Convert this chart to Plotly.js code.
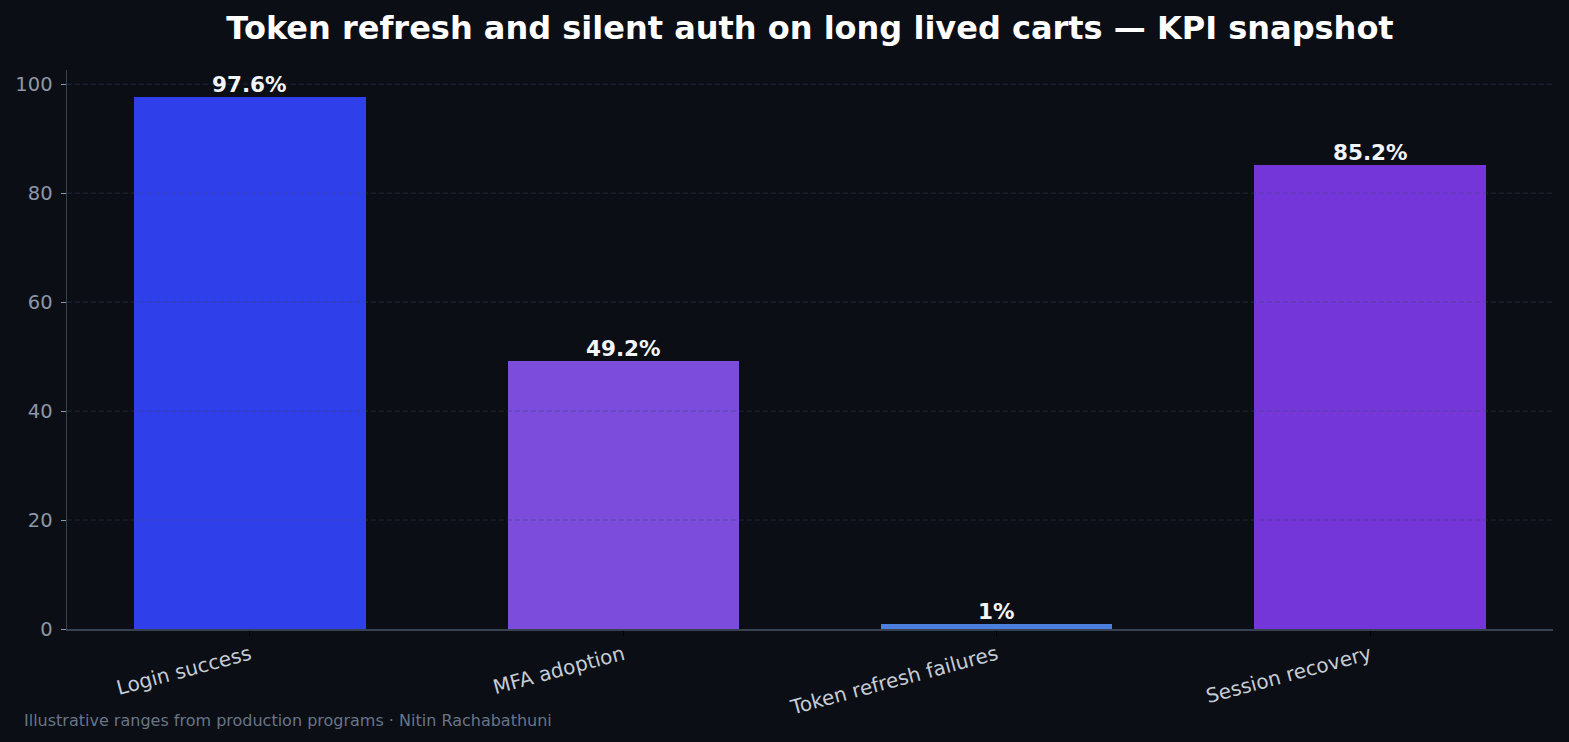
<!DOCTYPE html>
<html>
<head>
<meta charset="utf-8">
<script src="https://cdn.plot.ly/plotly-3.0.1.min.js"></script>
<style>
  html, body { margin: 0; padding: 0; background: #0b0e14; }
  #chart { width: 1569px; height: 742px; }
</style>
</head>
<body>
<div id="chart"></div>
<script>
// KPI categories and their percentage values
const categories = ["Login success", "MFA adoption", "Token refresh failures", "Session recovery"];
const values = [97.6, 49.2, 1.0, 85.2];
const barColors = ["#2f40ea", "#7c4cdc", "#4a7fdc", "#7436d9"];
const gridValues = [20, 40, 60, 80, 100];

const font = "DejaVu Sans, Verdana, sans-serif";

const trace = {
  type: "bar",
  x: categories,
  y: values,
  width: 0.62,
  marker: { color: barColors, line: { width: 0 } },
  hoverinfo: "skip"
};

// dashed gridlines drawn over the bars
const gridShapes = gridValues.map(v => ({
  type: "line", xref: "paper", yref: "y",
  x0: 0, x1: 1, y0: v, y1: v,
  line: { color: "rgba(60,70,100,0.45)", width: 1, dash: "5px,3px" },
  layer: "above"
}));

// value labels sitting just above each bar
const valueLabels = categories.map((c, i) => ({
  x: c, y: values[i], xref: "x", yref: "y",
  text: "<b>" + values[i] + "%</b>",
  showarrow: false,
  xanchor: "center", yanchor: "bottom",
  yshift: -2,
  font: { family: font, size: 21.5, color: "#f2f4f7" }
}));

const layout = {
  width: 1569,
  height: 742,
  paper_bgcolor: "#0b0e14",
  plot_bgcolor: "#0b0e14",
  margin: { l: 67, r: 16, t: 70, b: 113 },
  bargap: 0,
  showlegend: false,
  title: {
    text: "<b>Token refresh and silent auth on long lived carts — KPI snapshot</b>",
    font: { family: font, size: 32, color: "#ffffff" },
    x: 0.5, xanchor: "center", xref: "paper",
    y: 0.962, yanchor: "middle"
  },
  xaxis: {
    type: "category",
    range: [-0.49, 3.49],
    showgrid: false,
    zeroline: false,
    showline: true,
    linecolor: "#364152",
    linewidth: 1.5,
    ticks: "outside",
    ticklen: 5,
    tickwidth: 1,
    tickcolor: "#000000",
    tickangle: -15,
    tickfont: { family: font, size: 20, color: "#c5ccd6" },
    fixedrange: true
  },
  yaxis: {
    range: [0, 102.6],
    tickvals: [0, 20, 40, 60, 80, 100],
    showgrid: false,
    zeroline: false,
    showline: true,
    linecolor: "#364152",
    linewidth: 1.5,
    ticks: "outside",
    ticklen: 5,
    tickwidth: 1,
    tickcolor: "#8b97a8",
    ticklabelstandoff: 4,
    tickfont: { family: font, size: 19.5, color: "#8b97a8" },
    fixedrange: true
  },
  shapes: gridShapes,
  annotations: valueLabels.concat([{
    text: "Illustrative ranges from production programs · Nitin Rachabathuni",
    xref: "paper", yref: "paper",
    x: -0.0305, y: -0.163,
    xanchor: "left", yanchor: "middle",
    showarrow: false,
    font: { family: font, size: 16, color: "#687589" }
  }])
};

Plotly.newPlot("chart", [trace], layout, { staticPlot: true, displayModeBar: false });
</script>
</body>
</html>
